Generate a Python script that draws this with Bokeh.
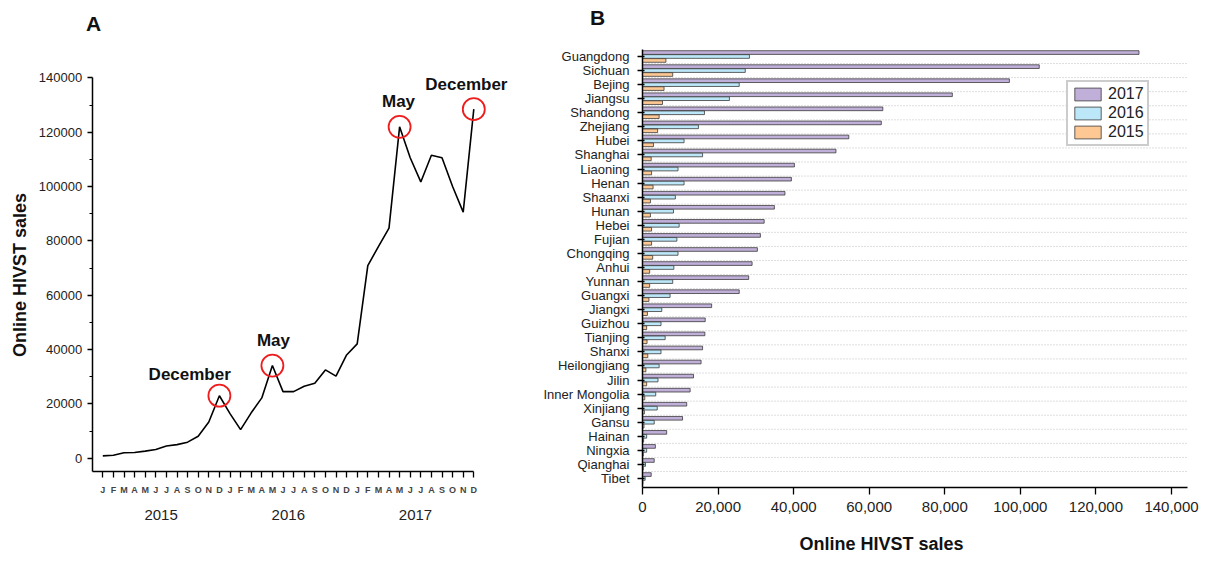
import math
from bokeh.plotting import figure
from bokeh.models import (FixedTicker, LinearAxis, Range1d, Label, Legend, LegendItem,
                          NumeralTickFormatter, ColumnDataSource)
from bokeh.layouts import row
from bokeh.embed import file_html
from bokeh.resources import INLINE
from bokeh.core.properties import value

FONT = "Liberation Sans"

# ---------------- Panel A data ----------------
month_letters = ["J", "F", "M", "A", "M", "J", "J", "A", "S", "O", "N", "D"]
years = ["2015", "2016", "2017"]
monthly_sales = [
    860, 1100, 2000, 2100, 2600, 3200, 4500, 5000, 5900, 8100, 13300, 23000,
    16400, 10500, 16700, 22200, 34100, 24500, 24500, 26500, 27600, 32500, 30200, 38000,
    42100, 70900, 77900, 84700, 122000, 110600, 101700, 111500, 110600, 100000, 90600, 128500,
]
highlight_idx = [11, 16, 28, 35]
highlight_text = ["December", "May", "May", "December"]
label_dx = [-2.8, 0.1, -0.1, -0.7]
label_dy = [7800, 9200, 9200, 8900]
y_ticks_a = [0, 20000, 40000, 60000, 80000, 100000, 120000, 140000]

# ---------------- Panel B data ----------------
provinces = ["Guangdong", "Sichuan", "Bejing", "Jiangsu", "Shandong", "Zhejiang", "Hubei",
             "Shanghai", "Liaoning", "Henan", "Shaanxi", "Hunan", "Hebei", "Fujian",
             "Chongqing", "Anhui", "Yunnan", "Guangxi", "Jiangxi", "Guizhou", "Tianjing",
             "Shanxi", "Heilongjiang", "Jilin", "Inner Mongolia", "Xinjiang", "Gansu",
             "Hainan", "Ningxia", "Qianghai", "Tibet"]
sales_2017 = [131400, 105000, 97100, 82000, 63600, 63200, 54600, 51200, 40200, 39400, 37700,
              34900, 32200, 31200, 30400, 29000, 28100, 25600, 18300, 16600, 16500, 15900,
              15500, 13500, 12600, 11700, 10600, 6400, 3400, 3100, 2300]
sales_2016 = [28300, 27200, 25600, 23000, 16400, 14800, 11000, 15900, 9400, 11000, 8700,
              8200, 9700, 9100, 9400, 8300, 8000, 7300, 5100, 4900, 6000, 4900,
              4400, 4100, 3500, 3900, 3100, 1100, 1100, 800, 700]
sales_2015 = [6200, 8000, 5700, 5300, 4400, 4000, 2900, 2300, 2400, 2800, 2100,
              2100, 2400, 2400, 2700, 1900, 1900, 1700, 1300, 1100, 1200, 1400,
              900, 1100, 600, 500, 400, 300, 200, 200, 100]
series_names = ["2017", "2016", "2015"]
series_colors = ["#c0afd9", "#bce7f8", "#fdc894"]
x_ticks_b = [0, 20000, 40000, 60000, 80000, 100000, 120000, 140000]

# ---------------- layout (screen pixels; canvases start at ORG,ORG) ----------------
ORG = 1
W1, W2, H = 539, 662, 555
# panel A: pixel of month 0 / px per month ; pixel of y=0 / px per unit
A_X0, A_DX = 103.3, 10.6
A_Y0, A_DY = 458.7, 380.3 / 140000
# panel B: pixel of x=0 / px per unit ; pixel of last category / px per category
B_X0, B_DX = 643.0, 529.0 / 140000
B_Y0, B_DY = 479.0, 422.0 / (len(provinces) - 1)


def ax_x(px):
    return (px - A_X0) / A_DX


def ax_y(py):
    return (A_Y0 - py) / A_DY


def bx_x(px):
    return (px - B_X0) / B_DX


def bx_y(py):
    return (B_Y0 - py) / B_DY


# =============== Panel A ===============
n_months = len(monthly_sales)
p1 = figure(width=W1, height=H,
            x_range=Range1d(ax_x(ORG), ax_x(ORG + W1)),
            y_range=Range1d(ax_y(ORG + H), ax_y(ORG)),
            output_backend="svg", toolbar_location=None, min_border=0)
p1.outline_line_color = None
p1.grid.visible = False

y_bottom_a = ax_y(472)
p1.line(list(range(n_months)), monthly_sales, line_color="black", line_width=1.6)
p1.scatter(highlight_idx, [monthly_sales[i] for i in highlight_idx],
           marker="circle", size=22, fill_color=None, line_color="#ee1c1c", line_width=1.8)
lab_src = ColumnDataSource(dict(
    x=[highlight_idx[k] + label_dx[k] for k in range(len(highlight_idx))],
    y=[monthly_sales[highlight_idx[k]] + label_dy[k] for k in range(len(highlight_idx))],
    t=highlight_text))
p1.text(x="x", y="y", text="t", source=lab_src, text_align="center", text_baseline="middle",
        text_font=value(FONT), text_font_style="bold", text_font_size="17px", text_color="#111111")

ya = p1.yaxis[0]
ya.fixed_location = -1
ya.bounds = (y_bottom_a, y_ticks_a[-1])
ya.ticker = FixedTicker(ticks=y_ticks_a, minor_ticks=[v + 10000 for v in y_ticks_a[:-1]])
ya.formatter = NumeralTickFormatter(format="0")
ya.axis_line_width = 1.5
ya.major_tick_out = 5
ya.major_tick_in = 0
ya.minor_tick_out = 3
ya.minor_tick_in = 0
ya.major_tick_line_width = 1.3
ya.minor_tick_line_width = 1.2
ya.major_label_text_font = FONT
ya.major_label_text_font_size = "13px"
ya.major_label_text_color = "#222222"
ya.major_label_standoff = 5

xa = p1.xaxis[0]
xa.fixed_location = y_bottom_a
xa.bounds = (-1, n_months - 1)
xa.ticker = FixedTicker(ticks=list(range(n_months)), minor_ticks=[])
xa.major_label_overrides = {i: month_letters[i % 12] for i in range(n_months)}
xa.axis_line_width = 1.5
xa.major_tick_out = 6
xa.major_tick_in = 0
xa.major_tick_line_width = 1.3
xa.major_label_text_font = FONT
xa.major_label_text_font_size = "9px"
xa.major_label_text_font_style = "bold"
xa.major_label_text_color = "#444444"
xa.major_label_standoff = 7

year_pos = [12 * k + 5.5 for k in range(len(years))]
yr = LinearAxis(ticker=FixedTicker(ticks=year_pos, minor_ticks=[]),
                major_label_overrides={year_pos[k]: years[k] for k in range(len(years))},
                fixed_location=y_bottom_a,
                axis_line_color=None, major_tick_line_color=None, minor_tick_line_color=None,
                major_tick_out=0, major_tick_in=0,
                major_label_text_font=FONT, major_label_text_font_size="15px",
                major_label_text_color="#222222", major_label_standoff=38)
p1.add_layout(yr, "below")

p1.add_layout(Label(x=ax_x(20), y=ax_y(275.5), text="Online HIVST sales", angle=math.pi / 2,
                    text_font=FONT, text_font_size="18px", text_font_style="bold",
                    text_align="center", text_baseline="middle", text_color="#111111"))
p1.add_layout(Label(x=ax_x(94), y=ax_y(24), text="A", text_font=FONT, text_font_size="21px",
                    text_font_style="bold", text_align="center", text_baseline="middle",
                    text_color="#111111"))

# =============== Panel B ===============
n = len(provinces)
pos = [n - 1 - i for i in range(n)]
p2 = figure(width=W2, height=H,
            x_range=Range1d(bx_x(ORG + W1), bx_x(ORG + W1 + W2)),
            y_range=Range1d(bx_y(ORG + H), bx_y(ORG)),
            output_backend="svg", toolbar_location=None, min_border=0)
p2.outline_line_color = None
p2.grid.visible = False

y_bottom_b = bx_y(488)
y_top_b = bx_y(50)
x_end_b = bx_x(1188)

# dotted separators between provinces
p2.segment(x0=[0] * (n - 1), x1=[x_end_b] * (n - 1), y0=[k + 0.5 for k in range(n - 1)],
           y1=[k + 0.5 for k in range(n - 1)], line_color="#bdbdbd", line_dash="1 2",
           line_width=1)

offsets = [0.28, 0.0, -0.28]
series_vals = [sales_2017, sales_2016, sales_2015]
renderers = []
for k in range(3):
    src = ColumnDataSource(dict(y=[p + offsets[k] for p in pos], right=series_vals[k]))
    r = p2.hbar(y="y", right="right", left=0, height=0.26, source=src,
                fill_color=series_colors[k], line_color="#3a3a3a", line_width=0.8)
    renderers.append(r)

legend = Legend(items=[LegendItem(label=series_names[k], renderers=[renderers[k]]) for k in range(3)],
                location=(1067 - (ORG + W1), (ORG + H) - 147), orientation="vertical",
                label_text_font=FONT, label_text_font_size="16px", label_text_color="#222222",
                glyph_width=33, glyph_height=16, label_standoff=4, spacing=1, padding=3, margin=0,
                border_line_color="#999999", border_line_width=2, background_fill_color="white",
                background_fill_alpha=1.0, label_height=16)
p2.add_layout(legend, "center")

ya2 = p2.yaxis[0]
ya2.fixed_location = 0
ya2.bounds = (y_bottom_b, y_top_b)
ya2.ticker = FixedTicker(ticks=pos, minor_ticks=[])
ya2.major_label_overrides = {pos[i]: provinces[i] for i in range(n)}
ya2.axis_line_width = 1.5
ya2.major_tick_out = 5
ya2.major_tick_in = 2
ya2.major_tick_line_width = 1.3
ya2.major_label_text_font = FONT
ya2.major_label_text_font_size = "13px"
ya2.major_label_text_color = "#222222"
ya2.major_label_standoff = 8

xa2 = p2.xaxis[0]
xa2.fixed_location = y_bottom_b
xa2.bounds = (0, x_end_b)
xa2.ticker = FixedTicker(ticks=x_ticks_b, minor_ticks=[])
xa2.formatter = NumeralTickFormatter(format="0,0")
xa2.axis_line_width = 1.5
xa2.major_tick_out = 7
xa2.major_tick_in = 0
xa2.major_tick_line_width = 1.3
xa2.major_label_text_font = FONT
xa2.major_label_text_font_size = "15px"
xa2.major_label_text_color = "#222222"
xa2.major_label_standoff = 7

p2.add_layout(Label(x=bx_x(598), y=bx_y(18), text="B", text_font=FONT, text_font_size="21px",
                    text_font_style="bold", text_align="center", text_baseline="middle",
                    text_color="#111111"))
p2.add_layout(Label(x=bx_x(882), y=bx_y(544), text="Online HIVST sales", text_font=FONT,
                    text_font_size="18px", text_font_style="bold", text_align="center",
                    text_baseline="middle", text_color="#111111"))

layout = row(p1, p2)
open("out.html", "w").write(file_html(layout, INLINE))
